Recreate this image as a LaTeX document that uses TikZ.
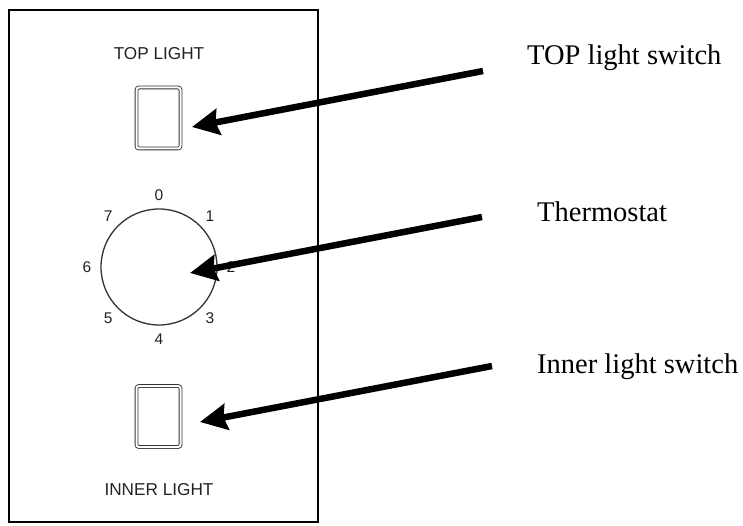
\documentclass[tikz,border=0pt]{standalone}
\usepackage{fontspec}
\setmainfont{Liberation Serif}
\setsansfont{Liberation Sans}
\usetikzlibrary{arrows.meta,positioning}
\definecolor{Ink}{HTML}{222222}
\definecolor{Rim}{HTML}{333333}

\begin{document}
\begin{tikzpicture}[
  x=1pt,y=-1pt,
  >={Stealth[length=27pt,width=26pt,inset=3pt]},
  switchbox/.style={draw=Rim,line width=0.9pt,double=white,double distance=2pt,rounded corners=2.5pt,minimum width=44pt,minimum height=61pt,inner sep=0pt},
  dial/.style={draw=Rim,line width=1.3pt,circle,minimum size=116pt,inner sep=0pt},
  panellabel/.style={text=Ink,font=\sffamily\fontsize{17.2}{18}\selectfont,inner sep=0pt,anchor=base},
  digit/.style={text=Ink,font=\sffamily\fontsize{15.5}{17}\selectfont,inner sep=0pt},
  callout/.style={font=\fontsize{28.5}{30}\selectfont,inner sep=0pt,anchor=base west},
  pointer/.style={->,line width=6.5pt}
]
  \useasboundingbox (0,0) rectangle (743,526);
  % front panel
  \draw[line width=2.2pt] (9,10) rectangle (318,522);
  \node[panellabel] (toplbl) at (159,60) {TOP LIGHT};
  \node[switchbox] (topsw) at (158.5,118) {};
  \node[dial] (thermo) at (159,267) {};
  \foreach \n in {0,...,7}
    \node[digit] (d\n) at ([shift={(90-45*\n:72pt)}]thermo.center) {\n};
  \node[switchbox] (innersw) at (158.5,416.5) {};
  \node[panellabel] (innerlbl) at (159,495) {INNER LIGHT};

  % callouts
  \node[callout] (toptxt) at (527,65) {TOP light switch};
  \node[callout] (thermotxt) at (537,222) {Thermostat};
  \node[callout] (innertxt) at (537,373) {Inner light switch};

  \coordinate (toptail) at (483,71);
  \coordinate (thermotail) at (482,217);
  \coordinate (innertail) at (492,366);
  \coordinate (toptip) at ([shift={(11,9)}]topsw.east);
  \coordinate (thermotip) at ([shift={(31,6)}]thermo.center);
  \coordinate (innertip) at ([shift={(19,5.5)}]innersw.east);

  \draw[pointer] (toptail) -- (toptip);
  \draw[pointer] (thermotail) -- (thermotip);
  \draw[pointer] (innertail) -- (innertip);
\end{tikzpicture}
\end{document}
